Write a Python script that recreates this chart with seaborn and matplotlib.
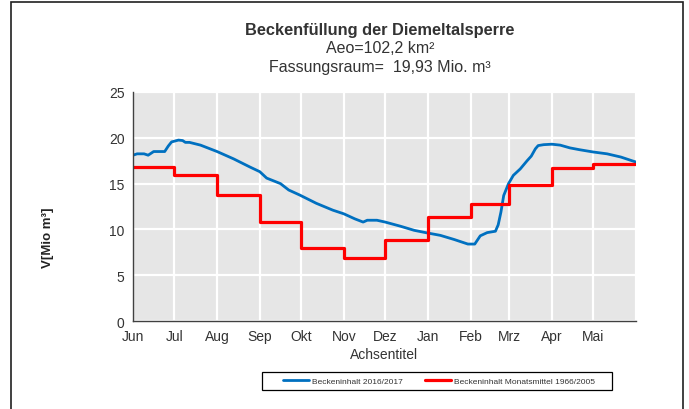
import numpy as np
import pandas as pd
import matplotlib
matplotlib.use("Agg")
import matplotlib.pyplot as plt
from matplotlib.patches import Rectangle
import seaborn as sns

# ---------------- data ----------------
month_labels = ["Jun", "Jul", "Aug", "Sep", "Okt", "Nov", "Dez",
                "Jan", "Feb", "Mrz", "Apr", "Mai"]
month_start = [0, 30, 61, 92, 122, 153, 183, 214, 245, 273, 304, 334]
year_end = 365

# Beckeninhalt 2016/2017 (Tag ab 1. Juni, Mio m³)
day_2016 = [0, 3, 8, 11, 15, 23, 25.6, 28, 33, 36, 38, 41, 49, 61, 73, 85,
            92, 97, 107, 113, 121, 133, 145, 153, 161, 167, 170, 177, 183,
            194, 204, 214, 223, 233, 243, 248, 252, 257, 263, 265, 267, 269,
            272.5, 276, 281, 286, 289, 292, 294, 298, 304, 310, 317, 324,
            334, 344, 354, 365]
vol_2016 = [18.1, 18.25, 18.25, 18.1, 18.5, 18.5, 19.1, 19.55, 19.75, 19.7,
            19.5, 19.5, 19.2, 18.5, 17.7, 16.8, 16.3, 15.6, 15.0, 14.3, 13.75,
            12.85, 12.1, 11.7, 11.15, 10.8, 11.0, 11.0, 10.8, 10.35, 9.9, 9.6,
            9.35, 8.9, 8.4, 8.4, 9.3, 9.65, 9.8, 10.5, 11.9, 13.7, 15.0, 15.9,
            16.6, 17.5, 18.0, 18.8, 19.15, 19.25, 19.3, 19.2, 18.9, 18.7,
            18.45, 18.25, 17.9, 17.35]

# Monatsmittel 1966/2005
mittel = [16.85, 15.95, 13.8, 10.8, 8.0, 6.9, 8.8, 11.4, 12.8, 14.85,
          16.65, 17.15]

y_ticks = [0, 5, 10, 15, 20, 25]

# ---------------- plot ----------------
sns.set_theme(style="darkgrid")
plt.rcParams["font.family"] = ["Liberation Sans", "DejaVu Sans"]

fig = plt.figure(figsize=(6.89, 4.10), dpi=100)
ax = fig.add_axes([133 / 689, 1 - 322 / 410, 503 / 689, 229 / 410])
ax.set_facecolor("#e6e6e6")

df_blue = pd.DataFrame({"tag": day_2016, "vol": vol_2016})
df_red = pd.DataFrame({"tag": month_start + [year_end],
                       "vol": mittel + [mittel[-1]]})

sns.lineplot(data=df_blue, x="tag", y="vol", ax=ax, color="#0070c0",
             lw=2.0, sort=False, label="Beckeninhalt 2016/2017")
sns.lineplot(data=df_red, x="tag", y="vol", ax=ax, color="#ff0000",
             lw=2.3, drawstyle="steps-post",
             label="Beckeninhalt Monatsmittel 1966/2005")

ax.set_xlim(0, year_end)
ax.set_ylim(0, 25)
ax.set_xticks(month_start + [year_end])
ax.set_xticklabels(month_labels + [""])
ax.set_yticks(y_ticks)
ax.grid(True, color="white", lw=1.6)

for s in ["top", "right"]:
    ax.spines[s].set_visible(False)
for s in ["left", "bottom"]:
    ax.spines[s].set_visible(True)
    ax.spines[s].set_color("#404040")
    ax.spines[s].set_linewidth(1.0)
ax.tick_params(axis="both", direction="out", length=4, width=1,
               color="#404040", labelcolor="#333333", labelsize=10, pad=2)

ax.set_xlabel("Achsentitel", fontsize=10, color="#333333", labelpad=3)
ax.set_ylabel("V[Mio m³]", fontsize=9.5, fontweight="bold", color="#222222")
ax.yaxis.set_label_coords(-0.158, 0.37)

# Titel
cx = 380 / 689
fig.text(cx, 1 - 30 / 410, "Beckenfüllung der Diemeltalsperre", ha="center",
         va="center", fontsize=11.8, fontweight="bold", color="#333333")
fig.text(cx, 1 - 48.5 / 410, "Aeo=102,2 km²", ha="center", va="center",
         fontsize=11.5, color="#333333")
fig.text(cx, 1 - 67.5 / 410, "Fassungsraum=  19,93 Mio. m³", ha="center",
         va="center", fontsize=11.5, color="#333333")

# Legende
ax.get_legend().remove()
handles, labels = ax.get_legend_handles_labels()
fig.legend(handles, labels, loc="center", ncol=2, frameon=False,
           bbox_to_anchor=(439 / 689, 1 - 382 / 410), fontsize=6,
           handlelength=3.2, columnspacing=2.6, handletextpad=0.35,
           labelcolor="#333333")
fig.patches.append(Rectangle((262 / 689, 1 - 391 / 410), 350 / 689, 18 / 410,
                             transform=fig.transFigure, fill=False,
                             edgecolor="black", lw=0.9))

# Rahmen um das Diagramm
fig.patches.append(Rectangle((11 / 689, -0.05), 672 / 689, 1.05 - 3 / 410,
                             transform=fig.transFigure, fill=False,
                             edgecolor="#202020", lw=1.2))

fig.savefig("out.png", dpi=100, facecolor="white")
